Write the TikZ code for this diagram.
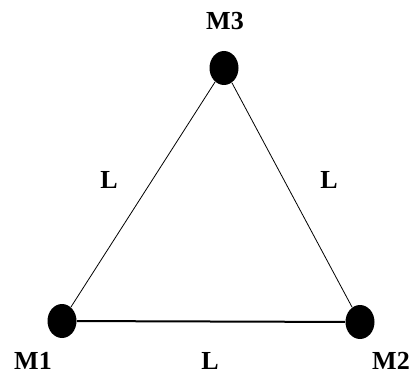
\documentclass[tikz,border=0pt]{standalone}
\usepackage{fontspec}
\setmainfont{Liberation Serif}
\usetikzlibrary{shapes.geometric}
\tikzset{
  mass/.style={ellipse, fill=black, minimum width=14.5pt, minimum height=17pt, inner sep=0pt},
  lbl/.style={font=\bfseries\fontsize{13}{15}\selectfont},
}
\begin{document}
\begin{tikzpicture}[x=0.5pt,y=-0.5pt]
  \useasboundingbox (0,0) rectangle (412,374);
  \node[mass] (m3) at (224,68) {};
  \node[mass] (m1) at (62,321) {};
  \node[mass] (m2) at (360,322) {};
  \draw[thin] (m3) -- (m1);
  \draw[thin] (m3) -- (m2);
  \draw[line width=1pt] (m1) -- (m2);
  \node[lbl] (t3) at (225,21) {M3};
  \node[lbl] (t1) at (33,361) {M1};
  \node[lbl] (t2) at (391,361) {M2};
  \node[lbl] (l13) at (109,180) {L};
  \node[lbl] (l23) at (329,180) {L};
  \node[lbl] (l12) at (210,361) {L};
\end{tikzpicture}
\end{document}
